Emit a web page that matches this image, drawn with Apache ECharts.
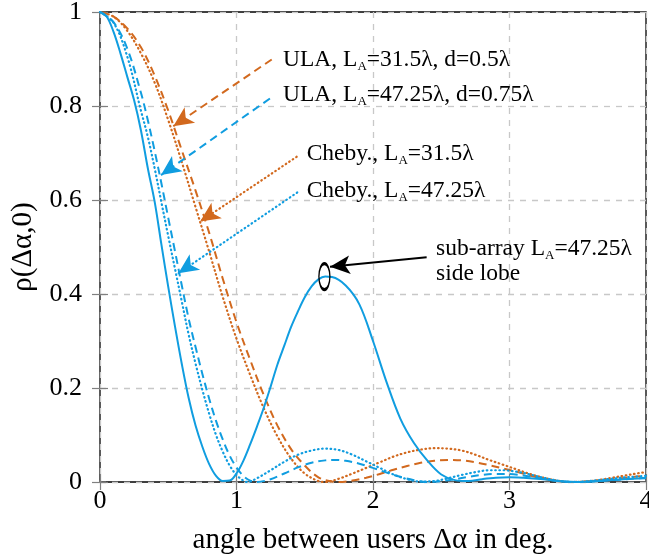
<!DOCTYPE html>
<html><head><meta charset="utf-8">
<script src="https://cdn.jsdelivr.net/npm/echarts@6/dist/echarts.min.js"></script>
<style>html,body{margin:0;padding:0;background:#fff}#c{width:649px;height:557px}</style>
</head><body><div id="c"></div>
<script>
// ---- data ----
const subArrayX = [0,0.05,0.1,0.15,0.2,0.25,0.3,0.35,0.4,0.45,0.5,0.55,0.6,0.65,0.7,0.75,0.8,0.85,0.9,0.95,1.0,1.05,1.1,1.15,1.2,1.25,1.3,1.35,1.4,1.45,1.5,1.55,1.6,1.65,1.7,1.8,1.9,2.0,2.1,2.2,2.3,2.4,2.5,2.6,2.7,2.8,2.9,3.0,3.1,3.2,3.3,3.4,3.5,3.6,3.7,3.8,3.9,4.0];
const subArrayY = [1,0.99,0.957,0.912,0.862,0.812,0.748,0.668,0.597,0.505,0.415,0.33,0.25,0.178,0.12,0.075,0.038,0.013,0.002,0.003,0.018,0.045,0.08,0.118,0.158,0.203,0.25,0.29,0.33,0.363,0.393,0.416,0.431,0.437,0.436,0.418,0.378,0.3,0.212,0.135,0.083,0.045,0.016,0.004,0.002,0.006,0.009,0.01,0.009,0.007,0.004,0.001,0,0.001,0.003,0.005,0.007,0.008];

const chebyBigX = [0,0.1,0.2,0.3,0.35,0.4,0.45,0.5,0.55,0.6,0.65,0.7,0.75,0.8,0.85,0.9,0.95,1.0,1.05,1.08,1.15,1.25,1.35,1.45,1.55,1.65,1.75,1.85,1.95,2.05,2.15,2.25,2.35,2.45,2.55,2.65,2.75,2.85,2.95,3.05,3.15,3.25,3.35,3.45,3.55,3.65,3.75,3.85,3.95,4.0];
const chebyBigY = [1,0.977,0.905,0.79,0.735,0.668,0.595,0.523,0.453,0.383,0.313,0.252,0.196,0.145,0.1,0.064,0.035,0.015,0.003,0,0.008,0.025,0.043,0.058,0.067,0.071,0.068,0.058,0.044,0.03,0.016,0.006,0.001,0.002,0.008,0.015,0.021,0.025,0.025,0.022,0.016,0.009,0.003,0,0.001,0.004,0.007,0.01,0.012,0.013];

const ulaBigX = [0,0.1,0.2,0.3,0.35,0.4,0.45,0.5,0.55,0.6,0.65,0.7,0.75,0.8,0.85,0.9,0.95,1.0,1.05,1.1,1.15,1.25,1.35,1.45,1.55,1.65,1.72,1.8,1.9,2.0,2.1,2.2,2.3,2.4,2.5,2.6,2.7,2.8,2.9,3.0,3.1,3.2,3.3,3.4,3.5,3.6,3.7,3.8,3.9,4.0];
const ulaBigY = [1,0.978,0.922,0.828,0.77,0.705,0.635,0.562,0.49,0.417,0.347,0.287,0.23,0.177,0.13,0.09,0.056,0.031,0.013,0.003,0,0.006,0.018,0.031,0.041,0.046,0.047,0.045,0.039,0.03,0.02,0.011,0.004,0,0.002,0.006,0.011,0.015,0.017,0.017,0.014,0.009,0.004,0.001,0,0.001,0.003,0.005,0.007,0.009];

const chebySmallX = [0,0.1,0.2,0.3,0.4,0.5,0.6,0.7,0.8,0.9,1.0,1.1,1.2,1.3,1.4,1.5,1.6,1.65,1.75,1.85,1.95,2.05,2.15,2.25,2.35,2.45,2.55,2.65,2.75,2.85,2.95,3.05,3.15,3.25,3.35,3.45,3.55,3.65,3.75,3.85,3.95,4.0];
const chebySmallY = [1,0.99,0.96,0.912,0.85,0.77,0.68,0.585,0.49,0.393,0.305,0.228,0.157,0.097,0.05,0.018,0.002,0,0.007,0.018,0.03,0.042,0.054,0.063,0.069,0.072,0.071,0.067,0.058,0.047,0.037,0.027,0.017,0.009,0.003,0,0.001,0.004,0.009,0.014,0.019,0.021];

const ulaSmallX = [0,0.1,0.2,0.3,0.4,0.5,0.6,0.7,0.8,0.9,1.0,1.1,1.2,1.3,1.4,1.5,1.6,1.7,1.75,1.85,1.95,2.05,2.15,2.25,2.35,2.45,2.55,2.65,2.75,2.85,2.95,3.05,3.15,3.25,3.35,3.45,3.55,3.65,3.75,3.85,3.95,4.0];
const ulaSmallY = [1,0.99,0.965,0.925,0.865,0.79,0.705,0.62,0.53,0.432,0.34,0.26,0.185,0.12,0.07,0.035,0.01,0.001,0,0.003,0.009,0.017,0.026,0.034,0.041,0.045,0.047,0.046,0.042,0.036,0.029,0.022,0.014,0.007,0.002,0,0.001,0.003,0.006,0.009,0.012,0.013];

const xTickValues = [0,1,2,3,4];
const yTickValues = [0,0.2,0.4,0.6,0.8,1];

// annotations (data coordinates)
const arrowFrom = [[1.258,0.899],[1.245,0.816],[1.441,0.692],[1.445,0.616],[2.393,0.478]];
const arrowTo   = [[0.537,0.757],[0.447,0.653],[0.733,0.554],[0.574,0.444],[1.685,0.458]];
const labelPre  = ['ULA, L','ULA, L','Cheby., L','Cheby., L','sub-array L'];
const labelPost = ['=31.5λ, d=0.5λ','=47.25λ, d=0.75λ','=31.5λ','=47.25λ','=47.25λ'];
const labelAt   = [[1.341,0.884],[1.341,0.809],[1.514,0.683],[1.514,0.605],[2.462,0.482]];
const lobeText = 'side lobe';
const lobeTextAt = [2.462,0.428];
const lobeMark = [1.644,0.437];

// ---- chart ----
const FONT = 'Liberation Serif';
const BLUE = '#109de0', ORANGE = '#d2691e';
const DASH = [8,5], DOT = [0.6,3.6];
const pairs = (xs, ys) => xs.map((x,i)=>[x, ys[i]]);
const chart = echarts.init(document.getElementById('c'));

const tickStyle = {show:true, inside:true, length:8, lineStyle:{color:'#808080', width:1.2}};
const arrowStyles = [
  {color:ORANGE, type:DASH, width:2},
  {color:BLUE, type:DASH, width:2},
  {color:ORANGE, type:DOT, width:2.2, cap:'round'},
  {color:BLUE, type:DOT, width:2.2, cap:'round'},
  {color:'#000', type:'solid', width:2}
];

function mkSeries(name, xs, ys, color, type, extra) {
  const dotted = type === DOT;
  return Object.assign({
    name, type:'line', data:pairs(xs, ys), showSymbol:false, smooth:0.35,
    lineStyle:{color, width: dotted ? 2.2 : 2, type, cap: dotted ? 'round' : 'butt'}, z:3
  }, extra||{});
}

chart.setOption({
  animation:false,
  grid:{left:100, right:3, top:12, bottom:75, outerBoundsMode:'none', containLabel:false,
        show:true, borderColor:'#000', borderWidth:1.3, backgroundColor:'rgba(0,0,0,0)'},
  xAxis:[
    {type:'value', min:0, max:4, interval:1, position:'bottom',
     axisLine:{show:false}, axisTick:tickStyle,
     axisLabel:{fontFamily:FONT, fontSize:26, color:'#000', margin:6},
     splitLine:{show:true, lineStyle:{color:'#c8c8c8', type:[6,6], width:1.3}},
     name:'angle between users Δα in deg.', nameLocation:'middle', nameGap:44,
     nameTextStyle:{fontFamily:FONT, fontSize:29, color:'#000'}},
    {type:'value', min:0, max:4, interval:1, position:'top',
     axisLine:{show:false}, axisTick:tickStyle, axisLabel:{show:false}, splitLine:{show:false}}
  ],
  yAxis:[
    {type:'value', min:0, max:1, interval:0.2, position:'left',
     axisLine:{show:false}, axisTick:tickStyle,
     axisLabel:{fontFamily:FONT, fontSize:26, color:'#000', margin:18},
     splitLine:{show:true, lineStyle:{color:'#c8c8c8', type:[6,6], width:1.3}},
     name:'ρ(Δα,0)', nameLocation:'middle', nameGap:62,
     nameTextStyle:{fontFamily:FONT, fontSize:29, color:'#000'}},
    {type:'value', min:0, max:1, interval:0.2, position:'right',
     axisLine:{show:false}, axisTick:tickStyle, axisLabel:{show:false}, splitLine:{show:false}}
  ],
  series:[
    mkSeries('ULA 31.5', ulaSmallX, ulaSmallY, ORANGE, DASH),
    mkSeries('Cheby 31.5', chebySmallX, chebySmallY, ORANGE, DOT),
    mkSeries('ULA 47.25', ulaBigX, ulaBigY, BLUE, DASH),
    mkSeries('Cheby 47.25', chebyBigX, chebyBigY, BLUE, DOT),
    mkSeries('sub-array', subArrayX, subArrayY, BLUE, 'solid', {
      markPoint:{silent:true, symbol:'circle', symbolSize:[11,26],
        itemStyle:{color:'rgba(0,0,0,0)', borderColor:'#000', borderWidth:2},
        label:{show:false}, data:[{coord:lobeMark}]}
    }),
    {type:'line', data:[], silent:true,
     markLine:{silent:true, symbol:['none','arrow'], symbolSize:[14,20], label:{show:false},
       data: arrowFrom.map((f,i)=>[{coord:f, lineStyle:arrowStyles[i]}, {coord:arrowTo[i]}])}}
  ]
});

const toPx = p => chart.convertToPixel({xAxisIndex:0, yAxisIndex:0}, p);
const rich = {n:{fontFamily:FONT, fontSize:23.5, color:'#000'}, s:{fontFamily:FONT, fontSize:13, color:'#000', padding:[14,0,0,0]}};
const graphics = labelAt.map((p,i)=>{
  const q = toPx(p);
  return {type:'text', x:q[0], y:q[1]-7, z:10, style:{text:'{n|'+labelPre[i]+'}{s|A}{n|'+labelPost[i]+'}', rich, align:'left', verticalAlign:'middle'}};
});
const lq = toPx(lobeTextAt);
graphics.push({type:'text', x:lq[0], y:lq[1]-7, z:10, style:{text:lobeText, fontFamily:FONT, fontSize:23.5, fill:'#000', align:'left', verticalAlign:'middle'}});
chart.setOption({graphic:graphics});
</script></body></html>
